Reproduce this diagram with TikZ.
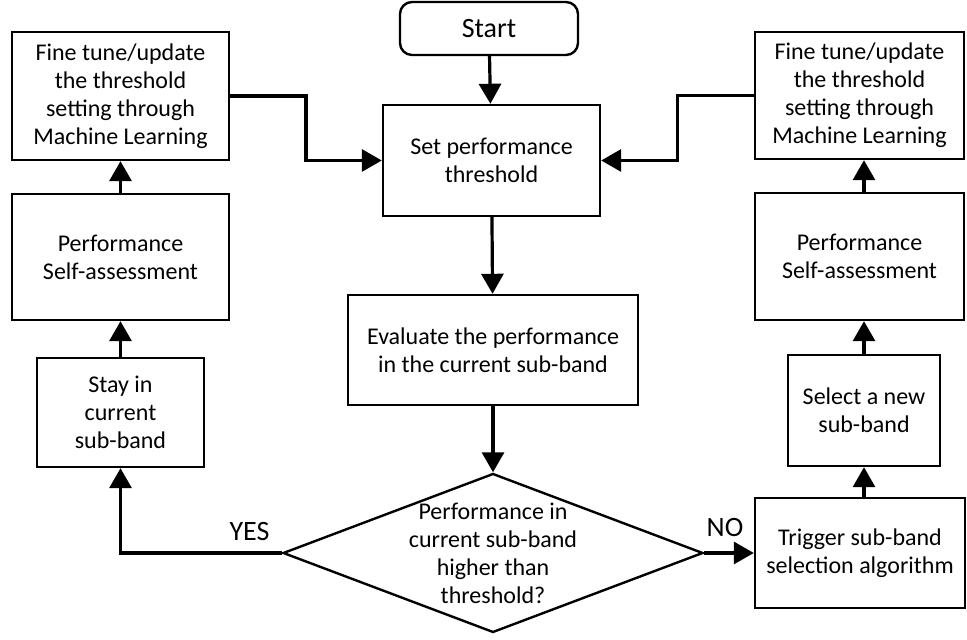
\documentclass[tikz,border=0pt]{standalone}
\usepackage{fontspec}
\setmainfont{Carlito}
\usetikzlibrary{shapes.geometric, arrows.meta, calc}

\begin{document}
\begin{tikzpicture}[x=0.5pt, y=0.5pt, >={Triangle[length=10pt,width=11pt]},
    every node/.style={font=\fontsize{12}{14}\selectfont},
    blk/.style={draw, line width=1.2pt, align=center, inner sep=0pt},
    decision/.style={draw, diamond, shape aspect=2.64, minimum width=210pt,
        minimum height=79.5pt, inner sep=-8pt, line width=1.2pt, align=center},
    line/.style={->, line width=1.6pt},
    lbl/.style={font=\fontsize{14}{16}\selectfont}]
    \useasboundingbox (0,0) rectangle (967,640);

    % Main column
    \node[blk, lbl, rounded corners=6pt, minimum width=89pt, minimum height=26.5pt] (start) at (489,611.5) {Start};
    \node[blk, minimum width=108.5pt, minimum height=55.5pt] (set) at (491.5,479.5) {Set performance\\threshold};
    \node[blk, minimum width=145pt, minimum height=55pt] (eval) at (493,290) {Evaluate the performance\\in the current sub-band};
    \node[decision] (dec) at (493,87) {Performance in\\current sub-band\\higher than\\threshold?};

    % Left column
    \node[blk, minimum width=108.5pt, minimum height=64pt] (fineL) at (120.5,544) {Fine tune/update\\the threshold\\setting through\\Machine Learning};
    \node[blk, minimum width=108.5pt, minimum height=63pt] (perfL) at (120.5,383) {Performance\\Self-assessment};
    \node[blk, minimum width=83.5pt, minimum height=54.5pt] (stay) at (120.5,227.5) {Stay in\\current\\sub-band};

    % Right column
    \node[blk, minimum width=104.5pt, minimum height=63.5pt] (fineR) at (859.5,544.5) {Fine tune/update\\the threshold\\setting through\\Machine Learning};
    \node[blk, minimum width=104.5pt, minimum height=63.5pt] (perfR) at (859.5,383.5) {Performance\\Self-assessment};
    \node[blk, minimum width=76pt, minimum height=55.5pt] (select) at (864,229.5) {Select a new\\sub-band};
    \node[blk, minimum width=105pt, minimum height=55pt] (trig) at (860,87) {Trigger sub-band\\selection algorithm};

    % Arrows
    \draw[line] (start) -- (set);
    \draw[line] (set) -- (eval);
    \draw[line] (eval) -- (dec);
    \draw[line] (dec.west) -| node[lbl, pos=0.1, above=2pt] {YES} (stay.south);
    \draw[line] (dec.east) -- node[lbl, above=4pt, pos=0.42] {NO} (trig.west);
    \draw[line] (stay) -- (perfL);
    \draw[line] (perfL) -- (fineL);
    \draw[line] (trig.north -| select) -- (select.south);
    \draw[line] (select.north) -- (select.north |- perfR.south);
    \draw[line] (perfR.north -| select) -- (fineR.south -| select);
    \draw[line] (fineL.east) -| ($(fineL.east)!0.5!(set.west)$) |- (set.west);
    \draw[line] (fineR.west) -| ($(fineR.west)!0.5!(set.east)$) |- (set.east);
\end{tikzpicture}
\end{document}
